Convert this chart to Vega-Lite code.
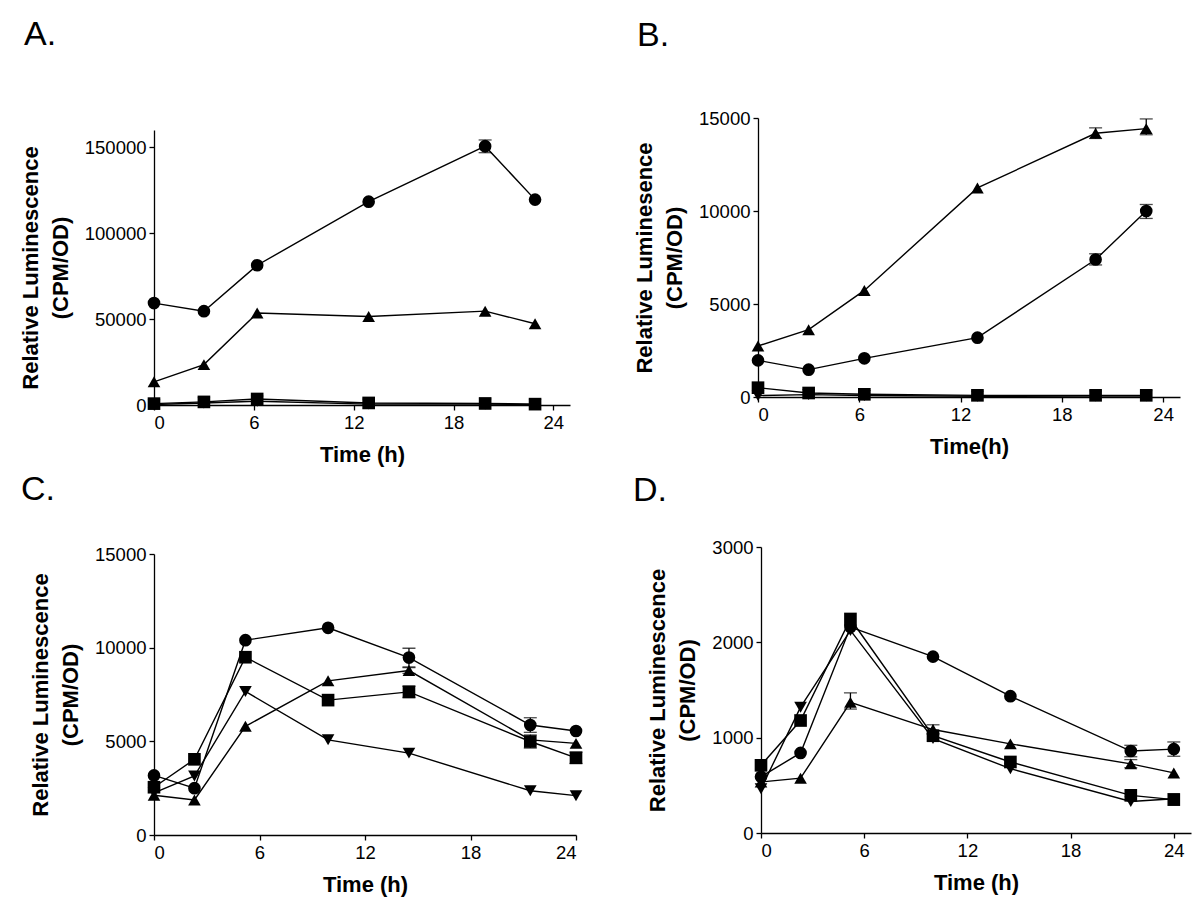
{
  "$schema": "https://vega.github.io/schema/vega-lite/v6.json",
  "background": "white",
  "padding": {"left": 19, "top": 18, "right": 5, "bottom": 5},
  "data": {"values": [
    {"p":"A","t":0,"s":"S1","v":59300},
    {"p":"A","t":3,"s":"S1","v":54600},
    {"p":"A","t":6.2,"s":"S1","v":81300},
    {"p":"A","t":12.9,"s":"S1","v":118300},
    {"p":"A","t":19.9,"s":"S1","v":150600,"lo":146800,"hi":154200},
    {"p":"A","t":22.9,"s":"S1","v":119500},
    {"p":"A","t":0,"s":"S2","v":13500},
    {"p":"A","t":3,"s":"S2","v":23500},
    {"p":"A","t":6.2,"s":"S2","v":53500},
    {"p":"A","t":12.9,"s":"S2","v":51500},
    {"p":"A","t":19.9,"s":"S2","v":54600},
    {"p":"A","t":22.9,"s":"S2","v":47300},
    {"p":"A","t":0,"s":"S3","v":800},
    {"p":"A","t":3,"s":"S3","v":1800},
    {"p":"A","t":6.2,"s":"S3","v":3500},
    {"p":"A","t":12.9,"s":"S3","v":1200},
    {"p":"A","t":19.9,"s":"S3","v":900},
    {"p":"A","t":22.9,"s":"S3","v":500},
    {"p":"A","t":0,"s":"S4","v":300},
    {"p":"A","t":3,"s":"S4","v":1200},
    {"p":"A","t":6.2,"s":"S4","v":2200},
    {"p":"A","t":12.9,"s":"S4","v":500},
    {"p":"A","t":19.9,"s":"S4","v":500},
    {"p":"A","t":22.9,"s":"S4","v":300},

    {"p":"B","t":0,"s":"S1","v":1970},
    {"p":"B","t":3,"s":"S1","v":1470},
    {"p":"B","t":6.3,"s":"S1","v":2080},
    {"p":"B","t":13,"s":"S1","v":3190},
    {"p":"B","t":20,"s":"S1","v":7390,"lo":7100,"hi":7700},
    {"p":"B","t":23,"s":"S1","v":10000,"lo":9600,"hi":10350},
    {"p":"B","t":0,"s":"S2","v":2740},
    {"p":"B","t":3,"s":"S2","v":3620},
    {"p":"B","t":6.3,"s":"S2","v":5730},
    {"p":"B","t":13,"s":"S2","v":11240},
    {"p":"B","t":20,"s":"S2","v":14180,"lo":13900,"hi":14470},
    {"p":"B","t":23,"s":"S2","v":14430,"lo":14100,"hi":14950},
    {"p":"B","t":0,"s":"S3","v":500},
    {"p":"B","t":3,"s":"S3","v":215},
    {"p":"B","t":6.3,"s":"S3","v":145},
    {"p":"B","t":13,"s":"S3","v":90},
    {"p":"B","t":20,"s":"S3","v":90},
    {"p":"B","t":23,"s":"S3","v":90},
    {"p":"B","t":0,"s":"S4","v":80},
    {"p":"B","t":3,"s":"S4","v":130},
    {"p":"B","t":6.3,"s":"S4","v":80},
    {"p":"B","t":13,"s":"S4","v":40},
    {"p":"B","t":20,"s":"S4","v":50},
    {"p":"B","t":23,"s":"S4","v":50},

    {"p":"C","t":0,"s":"S1","v":3180},
    {"p":"C","t":2.3,"s":"S1","v":2500},
    {"p":"C","t":5.2,"s":"S1","v":10400},
    {"p":"C","t":9.9,"s":"S1","v":11060},
    {"p":"C","t":14.5,"s":"S1","v":9470,"lo":8970,"hi":9970},
    {"p":"C","t":21.4,"s":"S1","v":5870,"lo":5480,"hi":6260},
    {"p":"C","t":24,"s":"S1","v":5550},
    {"p":"C","t":0,"s":"S2","v":2120},
    {"p":"C","t":2.3,"s":"S2","v":1870},
    {"p":"C","t":5.2,"s":"S2","v":5800},
    {"p":"C","t":9.9,"s":"S2","v":8230},
    {"p":"C","t":14.5,"s":"S2","v":8780,"lo":8630,"hi":8930},
    {"p":"C","t":21.4,"s":"S2","v":5080},
    {"p":"C","t":24,"s":"S2","v":4890},
    {"p":"C","t":0,"s":"S3","v":2550},
    {"p":"C","t":2.3,"s":"S3","v":4040},
    {"p":"C","t":5.2,"s":"S3","v":9490},
    {"p":"C","t":9.9,"s":"S3","v":7200},
    {"p":"C","t":14.5,"s":"S3","v":7640,"lo":7340,"hi":7940},
    {"p":"C","t":21.4,"s":"S3","v":4990,"lo":4640,"hi":5340},
    {"p":"C","t":24,"s":"S3","v":4120,"lo":3820,"hi":4420},
    {"p":"C","t":0,"s":"S4","v":2250},
    {"p":"C","t":2.3,"s":"S4","v":3150},
    {"p":"C","t":5.2,"s":"S4","v":7660},
    {"p":"C","t":9.9,"s":"S4","v":5080},
    {"p":"C","t":14.5,"s":"S4","v":4370},
    {"p":"C","t":21.4,"s":"S4","v":2360},
    {"p":"C","t":24,"s":"S4","v":2100},

    {"p":"D","t":0,"s":"S1","v":590},
    {"p":"D","t":2.3,"s":"S1","v":840},
    {"p":"D","t":5.2,"s":"S1","v":2160},
    {"p":"D","t":10,"s":"S1","v":1850},
    {"p":"D","t":14.5,"s":"S1","v":1435},
    {"p":"D","t":21.5,"s":"S1","v":860,"lo":800,"hi":920},
    {"p":"D","t":24,"s":"S1","v":880,"lo":805,"hi":955},
    {"p":"D","t":0,"s":"S2","v":535},
    {"p":"D","t":2.3,"s":"S2","v":575},
    {"p":"D","t":5.2,"s":"S2","v":1370,"lo":1300,"hi":1470},
    {"p":"D","t":10,"s":"S2","v":1085,"lo":1040,"hi":1135},
    {"p":"D","t":14.5,"s":"S2","v":935},
    {"p":"D","t":21.5,"s":"S2","v":725,"lo":685,"hi":770},
    {"p":"D","t":24,"s":"S2","v":630},
    {"p":"D","t":0,"s":"S3","v":710},
    {"p":"D","t":2.3,"s":"S3","v":1180},
    {"p":"D","t":5.2,"s":"S3","v":2245},
    {"p":"D","t":10,"s":"S3","v":1020},
    {"p":"D","t":14.5,"s":"S3","v":745},
    {"p":"D","t":21.5,"s":"S3","v":395},
    {"p":"D","t":24,"s":"S3","v":350},
    {"p":"D","t":0,"s":"S4","v":465},
    {"p":"D","t":2.3,"s":"S4","v":1320},
    {"p":"D","t":5.2,"s":"S4","v":2125},
    {"p":"D","t":10,"s":"S4","v":990},
    {"p":"D","t":14.5,"s":"S4","v":675},
    {"p":"D","t":21.5,"s":"S4","v":330},
    {"p":"D","t":24,"s":"S4","v":360}
  ]},
  "config": {
    "view": {"stroke": null},
    "font": "Liberation Sans",
    "axis": {"grid": false, "domainColor": "#000", "tickColor": "#000", "labelColor": "#000", "titleColor": "#000",
      "labelFont": "Liberation Sans", "titleFont": "Liberation Sans", "labelFontSize": 18.5, "titleFontSize": 22,
      "titleFontWeight": "bold", "tickSize": 5, "labelPadding": 3, "domainWidth": 1.3, "tickWidth": 1.3},
    "axisY": {"titlePadding": 12, "titleLineHeight": 30},
    "axisX": {"titlePadding": 13},
    "title": {"fontSize": 34, "fontWeight": "normal", "anchor": "start", "frame": "group", "color": "#000", "font": "Liberation Sans", "baseline": "alphabetic"}
  },
  "columns": 2,
  "align": {"row": "each", "column": "none"},
  "spacing": {"row": 7, "column": 44},
  "concat": [
        {
          "title": {"text": "A.", "dx": -130, "offset": 66},
          "width": 416, "height": 287,
          "transform": [{"filter": "datum.p === 'A'"}],
          "encoding": {"x": {"field": "t", "type": "quantitative", "scale": {"domain": [0, 25]}, "axis": {"values": [0, 6, 12, 18, 24], "title": "Time (h)"}}},
          "layer": [
            {"mark": {"type": "line", "color": "#000", "strokeWidth": 1.4},
             "encoding": {"y": {"field": "v", "type": "quantitative", "scale": {"domain": [0, 160000], "range": [287, 12]}, "title": ["Relative Luminescence", "(CPM/OD)"], "axis": {"values": [0, 50000, 100000, 150000], "format": "d"}}, "detail": {"field": "s"}, "order": {"field": "t"}}},
            {"transform": [{"filter": "isValid(datum.lo)"}],
             "mark": {"type": "errorbar", "color": "#000", "thickness": 1.3, "ticks": {"size": 13, "thickness": 1.3, "color": "#000"}},
             "encoding": {"y": {"field": "lo", "type": "quantitative", "scale": {"domain": [0, 160000], "range": [287, 12]}, "title": ["Relative Luminescence", "(CPM/OD)"], "axis": {"values": [0, 50000, 100000, 150000], "format": "d"}}, "y2": {"field": "hi"}}},
            {"mark": {"type": "point", "filled": true, "color": "#000", "opacity": 1, "size": 160},
             "encoding": {"y": {"field": "v", "type": "quantitative", "scale": {"domain": [0, 160000], "range": [287, 12]}, "title": ["Relative Luminescence", "(CPM/OD)"], "axis": {"values": [0, 50000, 100000, 150000], "format": "d"}},
               "shape": {"field": "s", "type": "nominal", "scale": {"domain": ["S1", "S2", "S3", "S4"], "range": ["circle", "triangle-up", "square", "triangle-down"]}, "legend": null}}}
          ]
        },
        {
          "title": {"text": "B.", "dx": -121, "offset": 56},
          "width": 422, "height": 279,
          "transform": [{"filter": "datum.p === 'B'"}],
          "encoding": {"x": {"field": "t", "type": "quantitative", "scale": {"domain": [0, 25]}, "axis": {"values": [0, 6, 12, 18, 24], "title": "Time(h)"}}},
          "layer": [
            {"mark": {"type": "line", "color": "#000", "strokeWidth": 1.4},
             "encoding": {"y": {"field": "v", "type": "quantitative", "scale": {"domain": [0, 15000]}, "title": ["Relative Luminesence", "(CPM/OD)"], "axis": {"values": [0, 5000, 10000, 15000], "format": "d"}}, "detail": {"field": "s"}, "order": {"field": "t"}}},
            {"transform": [{"filter": "isValid(datum.lo)"}],
             "mark": {"type": "errorbar", "color": "#000", "thickness": 1.3, "ticks": {"size": 13, "thickness": 1.3, "color": "#000"}},
             "encoding": {"y": {"field": "lo", "type": "quantitative", "scale": {"domain": [0, 15000]}, "title": ["Relative Luminesence", "(CPM/OD)"], "axis": {"values": [0, 5000, 10000, 15000], "format": "d"}}, "y2": {"field": "hi"}}},
            {"mark": {"type": "point", "filled": true, "color": "#000", "opacity": 1, "size": 160},
             "encoding": {"y": {"field": "v", "type": "quantitative", "scale": {"domain": [0, 15000]}, "title": ["Relative Luminesence", "(CPM/OD)"], "axis": {"values": [0, 5000, 10000, 15000], "format": "d"}},
               "shape": {"field": "s", "type": "nominal", "scale": {"domain": ["S1", "S2", "S3", "S4"], "range": ["circle", "triangle-up", "square", "triangle-down"]}, "legend": null}}}
          ]
        },
        {
          "title": {"text": "C.", "dx": -133, "offset": 38},
          "width": 435, "height": 288,
          "transform": [{"filter": "datum.p === 'C'"}],
          "encoding": {"x": {"field": "t", "type": "quantitative", "scale": {"domain": [0, 24], "range": [0, 422]}, "axis": {"values": [0, 6, 12, 18, 24], "title": "Time (h)"}}},
          "layer": [
            {"mark": {"type": "line", "color": "#000", "strokeWidth": 1.4},
             "encoding": {"y": {"field": "v", "type": "quantitative", "scale": {"domain": [0, 15000], "range": [288, 7]}, "title": ["Relative Luminescence", "(CPM/OD)"], "axis": {"values": [0, 5000, 10000, 15000], "format": "d"}}, "detail": {"field": "s"}, "order": {"field": "t"}}},
            {"transform": [{"filter": "isValid(datum.lo)"}],
             "mark": {"type": "errorbar", "color": "#000", "thickness": 1.3, "ticks": {"size": 13, "thickness": 1.3, "color": "#000"}},
             "encoding": {"y": {"field": "lo", "type": "quantitative", "scale": {"domain": [0, 15000], "range": [288, 7]}, "title": ["Relative Luminescence", "(CPM/OD)"], "axis": {"values": [0, 5000, 10000, 15000], "format": "d"}}, "y2": {"field": "hi"}}},
            {"mark": {"type": "point", "filled": true, "color": "#000", "opacity": 1, "size": 160},
             "encoding": {"y": {"field": "v", "type": "quantitative", "scale": {"domain": [0, 15000], "range": [288, 7]}, "title": ["Relative Luminescence", "(CPM/OD)"], "axis": {"values": [0, 5000, 10000, 15000], "format": "d"}},
               "shape": {"field": "s", "type": "nominal", "scale": {"domain": ["S1", "S2", "S3", "S4"], "range": ["circle", "triangle-up", "square", "triangle-down"]}, "legend": null}}}
          ]
        },
        {
          "title": {"text": "D.", "dx": -128, "offset": 30},
          "width": 430, "height": 286,
          "transform": [{"filter": "datum.p === 'D'"}],
          "encoding": {"x": {"field": "t", "type": "quantitative", "scale": {"domain": [0, 25]}, "axis": {"values": [0, 6, 12, 18, 24], "title": "Time (h)"}}},
          "layer": [
            {"mark": {"type": "line", "color": "#000", "strokeWidth": 1.4},
             "encoding": {"y": {"field": "v", "type": "quantitative", "scale": {"domain": [0, 3000]}, "title": ["Relative Luminescence", "(CPM/OD)"], "axis": {"values": [0, 1000, 2000, 3000], "format": "d"}}, "detail": {"field": "s"}, "order": {"field": "t"}}},
            {"transform": [{"filter": "isValid(datum.lo)"}],
             "mark": {"type": "errorbar", "color": "#000", "thickness": 1.3, "ticks": {"size": 13, "thickness": 1.3, "color": "#000"}},
             "encoding": {"y": {"field": "lo", "type": "quantitative", "scale": {"domain": [0, 3000]}, "title": ["Relative Luminescence", "(CPM/OD)"], "axis": {"values": [0, 1000, 2000, 3000], "format": "d"}}, "y2": {"field": "hi"}}},
            {"mark": {"type": "point", "filled": true, "color": "#000", "opacity": 1, "size": 160},
             "encoding": {"y": {"field": "v", "type": "quantitative", "scale": {"domain": [0, 3000]}, "title": ["Relative Luminescence", "(CPM/OD)"], "axis": {"values": [0, 1000, 2000, 3000], "format": "d"}},
               "shape": {"field": "s", "type": "nominal", "scale": {"domain": ["S1", "S2", "S3", "S4"], "range": ["circle", "triangle-up", "square", "triangle-down"]}, "legend": null}}}
          ]
        }
  ]
}
